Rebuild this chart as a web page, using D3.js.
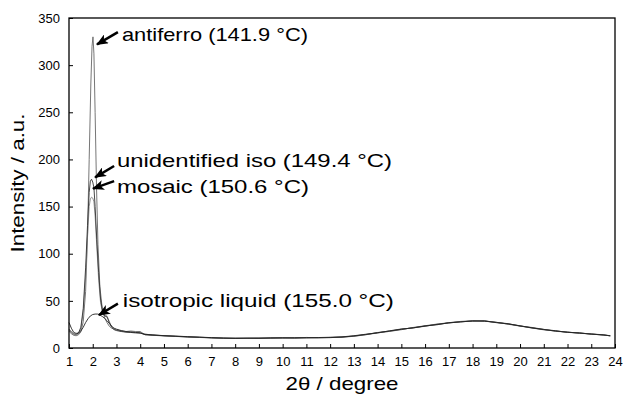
<!DOCTYPE html>
<html>
<head>
<meta charset="utf-8">
<script src="https://cdn.jsdelivr.net/npm/d3@7"></script>
<style>
  body { margin: 0; background: #fff; }
  svg { font-family: "Liberation Sans", Arial, sans-serif; }
</style>
</head>
<body>
<div id="chart"></div>
<script>
// ---- data ----
var xTicks = [1,2,3,4,5,6,7,8,9,10,11,12,13,14,15,16,17,18,19,20,21,22,23,24];
var yTicks = [0,50,100,150,200,250,300,350];

// shared background region (2θ >= 3)
var bgTheta = [3.0,3.2,3.4,3.6,3.8,4.0,4.2,4.5,5,5.5,6,6.5,7,7.5,8,8.5,9,9.5,10,10.5,11,11.5,
               12,12.5,13,13.5,14,14.5,15,15.5,16,16.5,17,17.5,18,18.5,19,19.5,20,20.5,21,21.5,22,22.5,23,23.5,23.8];

var antiPeakTheta = [1.0,1.1,1.2,1.3,1.4,1.5,1.6,1.7,1.78,1.85,1.92,1.97,2.01,2.05,2.1,2.16,2.22,2.3,2.4,2.5,2.6,2.7,2.8,2.9];
var antiPeak      = [18,15,13.5,13,14,17,28,60,120,200,280,320,330,312,250,170,110,65,42,32,27,23,21,20];
var antiBg = [19,18,17.5,18,17.5,17.5,14,13.5,12.8,12.2,11.8,11.2,10.6,10.2,10.4,10.1,10.6,10.3,10.9,10.5,11.2,10.8,
              11.2,11.4,12.4,14,16,17.6,19.4,21.8,23.6,25.4,26.8,28.2,28.9,28.5,27.3,25.2,23.2,21.8,19.8,17.6,17,15.5,15,14,12.8];

var uniPeakTheta = [1.0,1.1,1.2,1.3,1.4,1.5,1.6,1.7,1.78,1.85,1.9,1.95,2.0,2.05,2.1,2.17,2.25,2.33,2.42,2.5,2.6,2.7,2.8,2.9];
var uniPeak      = [20,17,15,14.5,16,22,42,85,130,165,177,179,176,170,150,115,80,52,38,34,33,27,22,19.5];
var uniBg = [18.5,17.5,16.8,16.5,16,15.8,14.2,13.6,13.2,12.4,11.6,11.4,10.8,10.6,10.1,10.4,10.2,10.8,10.6,10.9,11,11.1,
             11.4,11.8,13,14.6,16,18.2,20.2,21.2,23.5,24.6,26.9,27.6,28.8,28.4,27.2,25.8,23.3,21.2,19.7,18.3,16.5,16.1,14.6,14,12.9];

var mosPeakTheta = [1.0,1.1,1.2,1.3,1.4,1.5,1.6,1.7,1.78,1.85,1.9,1.95,2.0,2.05,2.1,2.17,2.25,2.33,2.42,2.5,2.6,2.7,2.8,2.9];
var mosPeak      = [19,16,14,13.5,15,20,38,75,118,150,158,160,159,155,140,108,72,48,37,35,34,28,22,20];
var mosBg = [19.5,18,17,16.8,17,16.2,14.8,13.8,12.9,12.6,12.1,11.3,11.1,10.4,10.5,10.3,10.5,10.5,10.7,10.8,10.7,11,
             11.1,11.7,12.5,14.2,16.5,17.6,20,21.4,23,25.2,26.4,28,28.4,29,26.8,25.6,23.6,21.2,19.2,18.2,16.6,16,14.8,13.6,13.2];

var liqPeakTheta = [1.0,1.1,1.2,1.3,1.4,1.5,1.6,1.7,1.8,1.9,2.0,2.1,2.2,2.3,2.4,2.5,2.6,2.7,2.8,2.9];
var liqPeak      = [27,21,16.5,15.5,16,18,22,27,31,34,35.5,36,36,35,33.5,31.5,29,26,23,21];
var liqBg = [20,18.5,17.5,17,16.5,16,14.5,14,13,12.5,12,11.5,11,10.5,10.3,10.5,10.4,10.6,10.8,10.6,10.8,10.9,
             11,11.6,12.7,14.3,16.3,18,19.8,21.5,23.2,25,26.6,27.8,28.6,28.8,27,25.5,23.5,21.5,19.5,18,16.8,15.8,14.8,13.8,13];

// annotations (data coordinates)
var annLabels    = ["antiferro (141.9 °C)", "unidentified iso (149.4 °C)", "mosaic (150.6 °C)", "isotropic liquid (155.0 °C)"];
var annTipTheta  = [2.18, 2.10, 2.01, 2.26];
var annTipI      = [322, 181, 169, 35];
var annTailTheta = [3.06, 2.90, 2.90, 3.06];
var annTailI     = [335, 193, 177, 47];
var annTextTheta = [3.23, 3.02, 3.02, 3.27];
var annTextI     = [326, 192, 164, 43];

// ---- layout ----
var width = 624, height = 396;
var plotL = 69, plotR = 615, plotT = 18, plotB = 348;
var annTextWidth = [186, 275, 192, 271];   // rendered label widths in px

var series = [
  {theta: antiPeakTheta.concat(bgTheta), I: antiPeak.concat(antiBg), color: "#666"},
  {theta: mosPeakTheta.concat(bgTheta),  I: mosPeak.concat(mosBg),   color: "#888"},
  {theta: uniPeakTheta.concat(bgTheta),  I: uniPeak.concat(uniBg),   color: "#333"},
  {theta: liqPeakTheta.concat(bgTheta),  I: liqPeak.concat(liqBg),   color: "#222"}
];

var svg = d3.select("#chart").append("svg")
    .attr("width", width)
    .attr("height", height);

var x = d3.scaleLinear().domain([1, 24]).range([plotL, plotR]);
var y = d3.scaleLinear().domain([0, 350]).range([plotB, plotT]);

svg.append("defs").append("marker")
    .attr("id", "head")
    .attr("markerUnits", "userSpaceOnUse")
    .attr("viewBox", "0 0 12 10")
    .attr("refX", 11).attr("refY", 5)
    .attr("markerWidth", 13).attr("markerHeight", 10)
    .attr("orient", "auto")
  .append("path")
    .attr("d", "M0,0 L12,5 L0,10 L3,5 Z")
    .attr("fill", "#000");

// curves
var line = d3.line()
    .x(function(d) { return x(d[0]); })
    .y(function(d) { return y(d[1]); });

svg.append("g").selectAll("path")
  .data(series)
  .enter().append("path")
    .attr("d", function(s) { return line(s.theta.map(function(t, i) { return [t, s.I[i]]; })); })
    .attr("fill", "none")
    .attr("stroke", function(s) { return s.color; })
    .attr("stroke-width", 0.9);

// axes
var xAxis = d3.axisBottom(x).tickValues(xTicks).tickSize(-4).tickPadding(9).tickFormat(d3.format("d"));
var yAxis = d3.axisLeft(y).tickValues(yTicks).tickSize(-4).tickPadding(9).tickFormat(d3.format("d"));

var gX = svg.append("g").attr("transform", "translate(0," + plotB + ")").call(xAxis);
var gY = svg.append("g").attr("transform", "translate(" + plotL + ",0)").call(yAxis);

[gX, gY].forEach(function(g) {
  g.select(".domain").remove();
  g.selectAll("line").attr("stroke", "#000");
  g.selectAll("text").attr("font-size", 13).attr("fill", "#000")
    .attr("font-family", "'Liberation Sans', Arial, sans-serif");
});

// frame
svg.append("rect")
    .attr("x", plotL).attr("y", plotT)
    .attr("width", plotR - plotL).attr("height", plotB - plotT)
    .attr("fill", "none")
    .attr("stroke", "#000")
    .attr("stroke-width", 1.3);

// axis titles
svg.append("text")
    .attr("transform", "translate(" + (plotL + plotR) / 2 + ",390) scale(1.24,1)")
    .attr("text-anchor", "middle")
    .attr("font-size", 18)
    .text("2θ / degree");

svg.append("text")
    .attr("transform", "translate(24,183) rotate(-90) scale(1.24,1)")
    .attr("text-anchor", "middle")
    .attr("font-size", 18)
    .text("Intensity / a.u.");

// annotations
var ann = svg.append("g").selectAll("g")
  .data(annLabels)
  .enter().append("g");

ann.append("line")
    .attr("x1", function(d, i) { return x(annTailTheta[i]); })
    .attr("y1", function(d, i) { return y(annTailI[i]); })
    .attr("x2", function(d, i) { return x(annTipTheta[i]); })
    .attr("y2", function(d, i) { return y(annTipI[i]); })
    .attr("stroke", "#000")
    .attr("stroke-width", 2.5)
    .attr("marker-end", "url(#head)");

ann.append("text")
    .attr("x", function(d, i) { return x(annTextTheta[i]); })
    .attr("y", function(d, i) { return y(annTextI[i]); })
    .attr("font-size", 19)
    .attr("textLength", function(d, i) { return annTextWidth[i]; })
    .attr("lengthAdjust", "spacingAndGlyphs")
    .text(function(d) { return d; });
</script>
</body>
</html>
